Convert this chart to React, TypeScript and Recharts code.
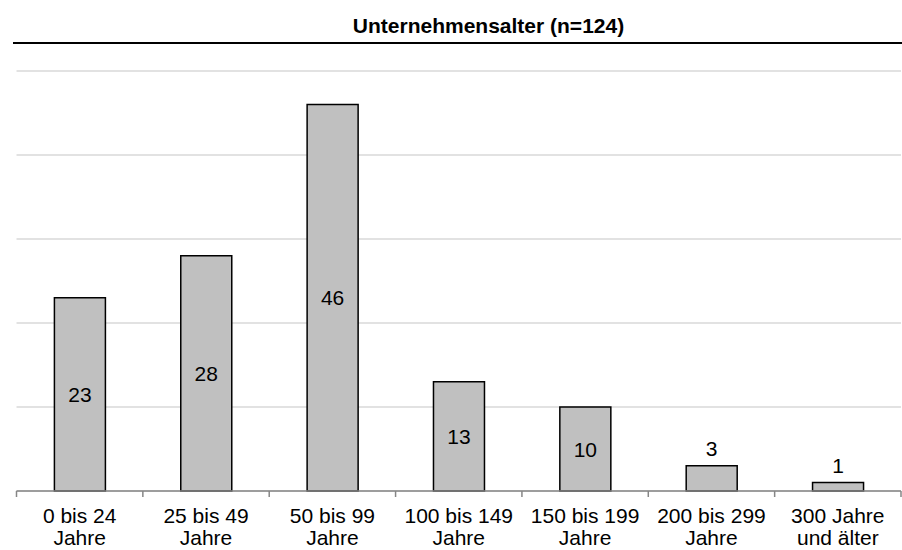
import { BarChart, Bar, XAxis, YAxis, CartesianGrid, LabelList } from "recharts";

// Unternehmensalter (n=124)
const CATEGORIES = [
  "0 bis 24\nJahre",
  "25 bis 49\nJahre",
  "50 bis 99\nJahre",
  "100 bis 149\nJahre",
  "150 bis 199\nJahre",
  "200 bis 299\nJahre",
  "300 Jahre\nund älter",
];
const COUNTS = [23, 28, 46, 13, 10, 3, 1];
const Y_TICKS = [0, 10, 20, 30, 40, 50];
const TITLE = "Unternehmensalter (n=124)";

const WIDTH = 902;
const HEIGHT = 550;
const AXIS_HEIGHT = 59;
const MARGIN = { top: 71, right: 1, left: 16.5, bottom: 0 };
const BAND = (WIDTH - MARGIN.left - MARGIN.right) / CATEGORIES.length;
const FONT = "'Liberation Sans', Arial, Helvetica, sans-serif";
const AXIS_GREY = "#868686";

const data = CATEGORIES.map((cat, i) => ({ cat, count: COUNTS[i] }));

// two-line category labels plus tick marks on the category borders
function AxisTick(props: any) {
  const { x, y, payload, index } = props;
  const lines = String(payload.value).split("\n");
  const last = index === CATEGORIES.length - 1;
  return (
    <g>
      <line x1={x - BAND / 2} x2={x - BAND / 2} y1={y} y2={y + 6} stroke={AXIS_GREY} strokeWidth={1.5} />
      {last && (
        <line x1={x + BAND / 2} x2={x + BAND / 2} y1={y} y2={y + 6} stroke={AXIS_GREY} strokeWidth={1.5} />
      )}
      <text x={x} y={y + 32} textAnchor="middle" fontSize={21} fill="#000" fontFamily={FONT}>
        {lines.map((l, i) => (
          <tspan key={i} x={x} dy={i === 0 ? 0 : 22}>
            {l}
          </tspan>
        ))}
      </text>
    </g>
  );
}

// values inside the bar when it's tall enough, otherwise on top
function BarValue(props: any) {
  const { x, y, width, height, value } = props;
  const inside = value >= 10;
  const ty = inside ? y + height / 2 + 7.5 : y - 10;
  return (
    <text x={x + width / 2} y={ty} textAnchor="middle" fontSize={21} fill="#000" fontFamily={FONT}>
      {value}
    </text>
  );
}

export default function App() {
  return (
    <div style={{ position: "absolute", left: 0, top: 0, width: WIDTH, height: HEIGHT, background: "#fff" }}>
      <BarChart width={WIDTH} height={HEIGHT} data={data} margin={MARGIN} barCategoryGap="30%">
        <CartesianGrid vertical={false} stroke="#d9d9d9" strokeWidth={1.5} />
        <YAxis hide domain={[0, 50]} ticks={Y_TICKS} />
        <XAxis
          dataKey="cat"
          interval={0}
          height={AXIS_HEIGHT}
          tickLine={false}
          tickSize={0}
          tickMargin={0}
          axisLine={{ stroke: AXIS_GREY, strokeWidth: 1.5 }}
          tick={<AxisTick />}
        />
        <Bar dataKey="count" fill="#c0c0c0" stroke="#000" strokeWidth={1.5} isAnimationActive={false}>
          <LabelList dataKey="count" content={<BarValue />} />
        </Bar>
      </BarChart>
      <svg width={WIDTH} height={60} style={{ position: "absolute", left: 0, top: 0, pointerEvents: "none" }}>
        <text x={488.5} y={33} textAnchor="middle" fontSize={21} fontWeight="bold" fill="#000" fontFamily={FONT}>
          {TITLE}
        </text>
        <line x1={13} x2={WIDTH} y1={43} y2={43} stroke="#000" strokeWidth={2} />
      </svg>
    </div>
  );
}
